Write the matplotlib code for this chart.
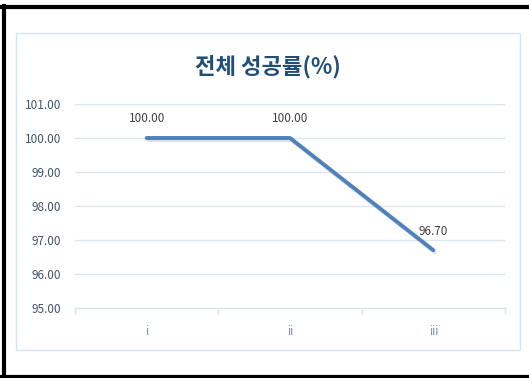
import matplotlib
matplotlib.use("Agg")
import matplotlib.pyplot as plt
from matplotlib.patches import Rectangle
from matplotlib.lines import Line2D
import matplotlib.patheffects as pe

plt.rcParams['font.family'] = ['Noto Sans CJK KR', 'DejaVu Sans']

categories = ['i', 'ii', 'iii']
values = [100.00, 100.00, 96.70]
value_labels = ['100.00', '100.00', '96.70']
title = '전체 성공률(%)'
yticks = [95, 96, 97, 98, 99, 100, 101]

W, H = 529, 378
fig = plt.figure(figsize=(W / 100, H / 100), dpi=100)
fig.patch.set_facecolor('white')

def fx(x):
    return x / W

def fy(y):
    return 1 - y / H

# outer black frame (left, top, bottom)
fig.add_artist(Line2D([fx(3.5), fx(3.5)], [fy(6), fy(377)], color='black', lw=3.0))
fig.add_artist(Line2D([fx(2), fx(529)], [fy(6.5), fy(6.5)], color='black', lw=3.0))
fig.add_artist(Line2D([fx(2), fx(529)], [fy(376.5), fy(376.5)], color='black', lw=3.0))

# inner chart-area border
fig.add_artist(Rectangle((fx(16), fy(350)), fx(520) - fx(16), fy(33) - fy(350),
                         fill=False, edgecolor='#D6E3F3', lw=1.0))

ax = fig.add_axes([fx(75), fy(308), fx(505) - fx(75), fy(104) - fy(308)])
x = list(range(len(categories)))
ax.set_xlim(-0.5, len(categories) - 0.5)
ax.set_ylim(95, 101)
ax.set_yticks(yticks)
ax.set_yticklabels([f'{v:.2f}' for v in yticks])
ax.set_xticks(x)
ax.set_xticklabels(categories)
ax.grid(axis='y', color='#DCE6F2', lw=1.0)
ax.set_axisbelow(True)
for s in ['top', 'right', 'left']:
    ax.spines[s].set_visible(False)
ax.spines['bottom'].set_color('#D6E3F3')
ax.tick_params(axis='y', length=0, labelsize=8.5, colors='#44546A', pad=10)
ax.tick_params(axis='x', length=0, labelsize=8.5, colors='#7F8FA6', pad=12)
# category boundary ticks
for b in [-0.5, 0.5, 1.5, 2.5]:
    ax.plot([b, b], [95, 95 - 6 * 5 / 204], color='#D6E3F3', lw=1.0, clip_on=False)

ax.plot(x, values, color='#4F81BD', lw=2.8, solid_capstyle='round',
        path_effects=[pe.SimpleLineShadow(offset=(1, -1.5), shadow_color='#999999', alpha=0.3),
                      pe.Normal()])
for xi, v, lab in zip(x, values, value_labels):
    ax.annotate(lab, (xi, v), xytext=(0, 9), textcoords='offset points',
                ha='center', va='bottom', fontsize=8.5, color='#404040')

fig.text(fx(268), fy(67), title, ha='center', va='center', fontsize=16,
         fontweight='bold', color='#1F4E79')

fig.savefig('out.png', dpi=100)
